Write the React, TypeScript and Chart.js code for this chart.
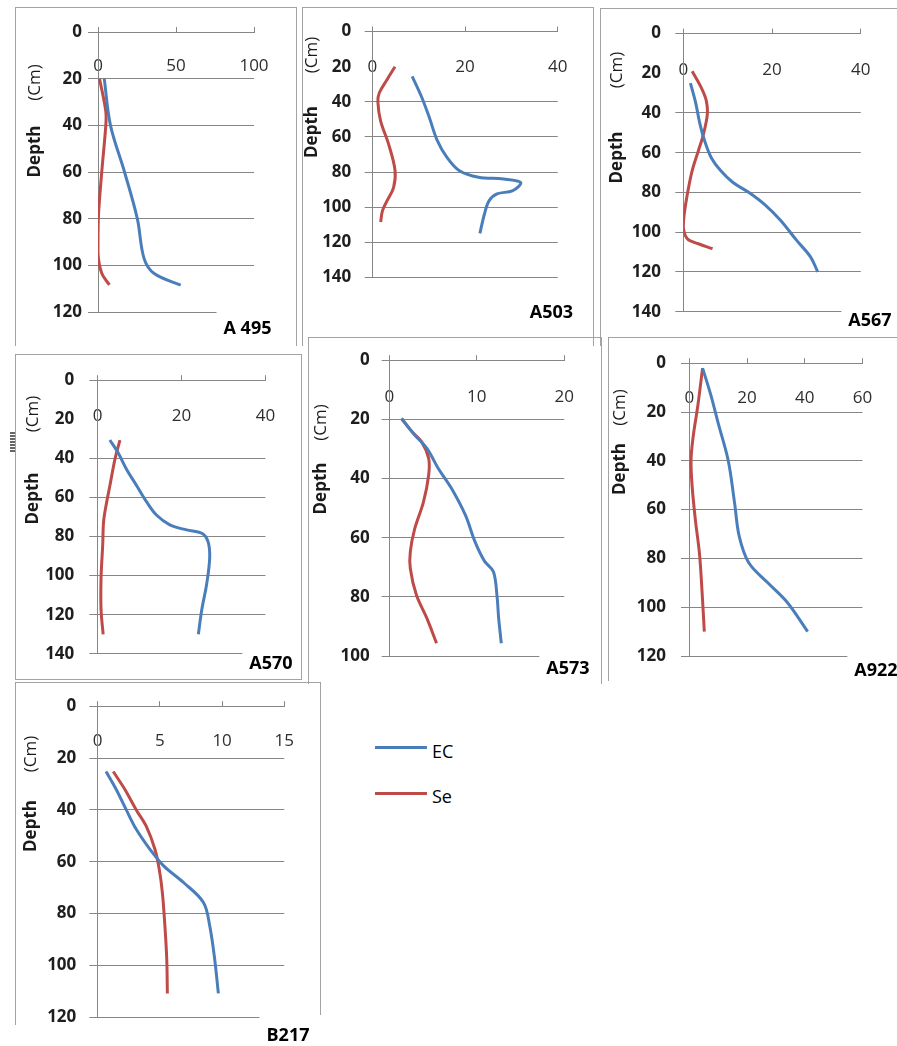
import React, { useEffect, useRef } from "react";
import { Chart, registerables } from "chart.js";

Chart.register(...registerables);
Chart.defaults.font.family = '"Open Sans", "Liberation Sans", sans-serif';

// ---------- data (value, depth in cm) ----------
const A495_EC = [4, 8, 17, 25.2, 29.5, 36, 53];
const A495_EC_depth = [20, 40, 60, 80, 97, 103.5, 108.5];
const A495_Se = [1, 5, 5, 2.4, 0.2, 0, 2.4, 7.3];
const A495_Se_depth = [20, 34, 40, 60, 80, 95, 103.4, 108.4];

const A503_EC = [8.6, 10.7, 12.3, 14, 16.1, 18.8, 22.9, 28.3, 32, 30.3, 26.9, 25.2, 24.2, 23.2];
const A503_EC_depth = [25.5, 37.7, 49, 62, 71.7, 79.3, 83, 84, 86, 90.6, 92.5, 96.3, 103.8, 115];
const A503_Se = [4.9, 3.2, 1.5, 1.2, 1.8, 3.5, 4.9, 4.6, 3.2, 2.2, 1.8];
const A503_Se_depth = [20, 27.3, 35, 40, 51, 64, 79, 88.7, 96.3, 102, 108.5];

const A567_EC = [1.6, 2.7, 3.8, 4.8, 6.3, 8.4, 11.2, 14.8, 18.3, 21.9, 25.5, 28.7, 30.3];
const A567_EC_depth = [25, 34, 46, 54, 62.5, 69, 75, 80, 86, 94, 104, 112.5, 120];
const A567_Se = [2, 4.1, 5.2, 5.4, 4.5, 3.4, 2, 0.9, 0.2, 0, 0.9, 3.4, 6.6];
const A567_Se_depth = [19, 27.5, 34, 41, 51, 59, 69, 81, 91, 97.5, 103.3, 105.8, 108.3];

const A570_EC = [2.9, 4.9, 6.9, 9.3, 11.7, 14, 17.2, 21.2, 24.8, 26.3, 26.7, 26, 24.8, 24];
const A570_EC_depth = [30.6, 37.3, 45.7, 54, 62.4, 69, 74, 76.6, 78.3, 82.5, 90.8, 104, 117.6, 130];
const A570_Se = [5.3, 4.1, 2.9, 2, 1.4, 1.2, 0.8, 0.8, 1.3];
const A570_Se_depth = [30.6, 40.6, 54, 64, 72.5, 84, 101, 117.6, 130];

const A573_EC = [1.4, 2.9, 4.3, 5.6, 7.1, 8.7, 9.8, 10.9, 11.9, 12.3, 12.5, 12.8];
const A573_EC_depth = [19.7, 25.3, 29.8, 36.6, 43.3, 52.4, 61.4, 68, 71.5, 79.4, 87.3, 95.7];
const A573_Se = [1.4, 2.6, 3.7, 4.5, 4.5, 3.9, 2.9, 2.4, 2.4, 3.1, 4.3, 5.4];
const A573_Se_depth = [19.7, 24.2, 27.6, 33.2, 38.8, 48, 57, 64.7, 70.4, 79.4, 87.3, 95.7];

const A922_EC = [4.6, 7.4, 10.1, 13.5, 15.7, 17.3, 20.6, 27.2, 33.9, 41];
const A922_EC_depth = [2, 12.8, 25, 40, 57.4, 71, 81.8, 90, 98, 110];
const A922_Se = [4.6, 3, 1.3, 0.6, 1, 2.1, 3.5, 4.3, 5.2];
const A922_Se_depth = [2, 17, 30.4, 40, 50.7, 64.2, 77.7, 91.2, 110];

const B217_EC = [0.67, 1.5, 2.3, 3.1, 4.2, 5.3, 6.9, 8.5, 9, 9.4, 9.7];
const B217_EC_depth = [25.2, 32.2, 40, 47.5, 55.2, 61.6, 68, 75.7, 84.6, 97.4, 110.8];
const B217_Se = [1.25, 2.2, 3.1, 3.9, 4.6, 4.95, 5.2, 5.4, 5.55, 5.6];
const B217_Se_depth = [25.2, 32.2, 40, 46.3, 55.2, 63, 72, 84.6, 97.4, 110.8];

const SERIES_NAMES = ["EC", "Se"];
const BLUE = "#4A7EBB";
const RED = "#BE4B48";
const GRID = "#868686";
const FRAME = "#a3a3a3";
const TICK_SIZE = 17;

type Panel = {
  title: string;
  ec: number[]; ecD: number[]; se: number[]; seD: number[];
  xMax: number; xStep: number; yMax: number;
  canvas: [number, number, number, number]; // page x, y, w, h
  area: [number, number, number, number]; // page left, top, right, bottom
  tl: number; pad: number; xOff: number;
  titlePos: [number, number];
  yTitle: [number, number, number]; // x, Depth centre y, (Cm) centre y
  hide: number[];
  frame: { l: number; t: number; r: number; b: number; sides: string; rb?: number };
};

const panels: Panel[] = [
  {
    title: "A 495", ec: A495_EC, ecD: A495_EC_depth, se: A495_Se, seD: A495_Se_depth,
    xMax: 100, xStep: 50, yMax: 120,
    canvas: [16, 8, 280, 340], area: [98, 32, 254, 312], tl: 10, pad: 6, xOff: 34.3,
    titlePos: [247.5, 328], yTitle: [35, 151.5, 82.5], hide: [],
    frame: { l: 15, t: 7, r: 297, b: 346, sides: "tlr" },
  },
  {
    title: "A503", ec: A503_EC, ecD: A503_EC_depth, se: A503_Se, seD: A503_Se_depth,
    xMax: 40, xStep: 20, yMax: 140,
    canvas: [303, 8, 290, 335], area: [372.3, 30, 569, 277.3], tl: 7.6, pad: 13.4, xOff: 35.7,
    titlePos: [551.5, 311.5], yTitle: [312, 132, 55], hide: [20],
    frame: { l: 302, t: 7, r: 594, b: 346, sides: "tlr" },
  },
  {
    title: "A567", ec: A567_EC, ecD: A567_EC_depth, se: A567_Se, seD: A567_Se_depth,
    xMax: 40, xStep: 20, yMax: 140,
    canvas: [601, 9, 296, 335], area: [683.3, 31.7, 871, 311.7], tl: 8, pad: 14.3, xOff: 36.7,
    titlePos: [870, 320], yTitle: [617.5, 157.5, 70], hide: [20],
    frame: { l: 600, t: 8, r: 897, b: 346, sides: "tl" },
  },
  {
    title: "A570", ec: A570_EC, ecD: A570_EC_depth, se: A570_Se, seD: A570_Se_depth,
    xMax: 40, xStep: 20, yMax: 140,
    canvas: [16, 355, 285, 324], area: [97.7, 377.3, 265.7, 656], tl: 8.4, pad: 15, xOff: 36,
    titlePos: [271, 662.5], yTitle: [33.5, 498.5, 414], hide: [20],
    frame: { l: 15, t: 354, r: 302, b: 680, sides: "tlrb" },
  },
  {
    title: "A573", ec: A573_EC, ecD: A573_EC_depth, se: A573_Se, seD: A573_Se_depth,
    xMax: 20, xStep: 10, yMax: 100,
    canvas: [309, 338, 292, 345], area: [389.3, 360, 564.3, 656], tl: 7.6, pad: 12, xOff: 36.7,
    titlePos: [568, 668], yTitle: [321, 488.5, 422.5], hide: [],
    frame: { l: 308, t: 337, r: 602, b: 684, sides: "tlr" },
  },
  {
    title: "A922", ec: A922_EC, ecD: A922_EC_depth, se: A922_Se, seD: A922_Se_depth,
    xMax: 60, xStep: 20, yMax: 120,
    canvas: [609, 338, 288, 344], area: [689.3, 360, 870.7, 656], tl: 8.3, pad: 15, xOff: 35,
    titlePos: [876, 670], yTitle: [620, 469, 407.5], hide: [],
    frame: { l: 608, t: 337, r: 897, b: 681, sides: "tl" },
  },
  {
    title: "B217", ec: B217_EC, ecD: B217_EC_depth, se: B217_Se, seD: B217_Se_depth,
    xMax: 15, xStep: 5, yMax: 120,
    canvas: [16, 683, 304, 363], area: [97.7, 704.3, 284.3, 1017.3], tl: 8.4, pad: 13, xOff: 35,
    titlePos: [288, 1035], yTitle: [31.5, 826, 754], hide: [],
    frame: { l: 15, t: 682, r: 321, b: 1025, sides: "tlr", rb: 1015 },
  },
];

const zip = (vals: number[], depth: number[]) => vals.map((v, i) => ({ x: v, y: depth[i] }));

const textPlugin = {
  id: "panelText",
  afterDraw(chart: any, _args: any, opts: any) {
    const ctx = chart.ctx as CanvasRenderingContext2D;
    ctx.save();
    ctx.textAlign = "center";
    ctx.textBaseline = "middle";
    ctx.fillStyle = "#1a1a1a";
    ctx.save();
    ctx.translate(opts.yx, opts.depthY);
    ctx.rotate(-Math.PI / 2);
    ctx.font = 'bold 17px "Open Sans", sans-serif';
    ctx.fillText("Depth", 0, 0);
    ctx.restore();
    ctx.save();
    ctx.translate(opts.yx, opts.cmY);
    ctx.rotate(-Math.PI / 2);
    ctx.font = '17px "Open Sans", sans-serif';
    ctx.fillText("(Cm)", 0, 0);
    ctx.restore();
    ctx.font = 'bold 18px "Open Sans", sans-serif';
    const w = ctx.measureText(opts.title).width;
    ctx.fillStyle = "#ffffff";
    ctx.fillRect(opts.tx - w / 2 - 7, opts.ty - 19, w + 14, 30);
    ctx.fillStyle = "#000000";
    ctx.fillText(opts.title, opts.tx, opts.ty + 1);
    ctx.restore();
  },
};

function PanelChart({ p }: { p: Panel }) {
  const ref = useRef<HTMLCanvasElement>(null);
  useEffect(() => {
    const [cx, cy, cw, ch] = p.canvas;
    const [al, at, ar, ab] = p.area;
    const XH = 6;
    const left = al - cx;
    const top = at - cy;
    const right = ar - cx;
    const bottom = ab - cy;
    const chart = new Chart(ref.current as HTMLCanvasElement, {
      type: "scatter",
      data: {
        datasets: [
          {
            label: SERIES_NAMES[0], data: zip(p.ec, p.ecD), borderColor: BLUE, backgroundColor: BLUE,
            borderWidth: 3, showLine: true, pointRadius: 0, tension: 0.35, fill: false,
          },
          {
            label: SERIES_NAMES[1], data: zip(p.se, p.seD), borderColor: RED, backgroundColor: RED,
            borderWidth: 3, showLine: true, pointRadius: 0, tension: 0.35, fill: false,
          },
        ],
      },
      options: {
        responsive: false,
        animation: false,
        events: [],
        layout: { padding: { left: 0, top: top - XH, right: cw - right, bottom: ch - bottom } },
        plugins: {
          legend: { display: false },
          tooltip: { enabled: false },
          panelText: {
            title: p.title, tx: p.titlePos[0] - cx, ty: p.titlePos[1] - cy,
            yx: p.yTitle[0] - cx, depthY: p.yTitle[1] - cy, cmY: p.yTitle[2] - cy,
          },
        } as any,
        scales: {
          x: {
            type: "linear", position: "top", min: 0, max: p.xMax,
            afterFit: (s: any) => { s.height = XH; },
            grid: { drawOnChartArea: false, drawTicks: true, tickLength: 5, color: GRID },
            border: { display: true, color: GRID, width: 1 },
            ticks: {
              stepSize: p.xStep, mirror: true, padding: p.xOff - TICK_SIZE * 0.6, autoSkip: false, maxRotation: 0,
              font: { size: TICK_SIZE }, color: "#2e2e2e",
            },
          },
          y: {
            type: "linear", reverse: true, min: 0, max: p.yMax,
            afterFit: (s: any) => { s.width = left; },
            grid: {
              color: (c: any) => (c.tick && p.hide.includes(c.tick.value) ? "rgba(0,0,0,0)" : GRID),
              tickLength: p.tl, drawTicks: true,
            },
            border: { display: true, color: GRID, width: 1 },
            ticks: { stepSize: 20, padding: p.pad, font: { size: TICK_SIZE, weight: "bold" }, color: "#1e1e1e" },
          },
        },
      } as any,
      plugins: [textPlugin],
    });
    return () => chart.destroy();
  }, [p]);
  const [cx, cy, cw, ch] = p.canvas;
  return (
    <canvas
      ref={ref}
      width={cw}
      height={ch}
      style={{ position: "absolute", left: cx, top: cy, width: cw, height: ch }}
    />
  );
}

function Frame({ p }: { p: Panel }) {
  const f = p.frame;
  const s = f.sides;
  const items: React.ReactNode[] = [];
  if (s.includes("t")) items.push(<div key="t" style={{ position: "absolute", left: f.l, top: f.t, width: f.r - f.l, height: 1, background: FRAME }} />);
  if (s.includes("l")) items.push(<div key="l" style={{ position: "absolute", left: f.l, top: f.t, width: 1, height: f.b - f.t, background: FRAME }} />);
  if (s.includes("r")) items.push(<div key="r" style={{ position: "absolute", left: f.r - 1, top: f.t, width: 1, height: (f.rb ?? f.b) - f.t, background: FRAME }} />);
  if (s.includes("b")) items.push(<div key="b" style={{ position: "absolute", left: f.l, top: f.b - 1, width: f.r - f.l, height: 1, background: FRAME }} />);
  return <>{items}</>;
}

export default function App() {
  return (
    <div style={{ position: "absolute", left: 0, top: 0, width: 897, height: 1046, overflow: "hidden", background: "#fff", fontFamily: '"Open Sans", sans-serif' }}>
      {panels.map((p) => <Frame key={"f" + p.title} p={p} />)}
      {panels.map((p) => <PanelChart key={p.title} p={p} />)}
      <div style={{ position: "absolute", left: 10, top: 432, width: 5, height: 20, background: "repeating-linear-gradient(to bottom, #666 0px, #666 1.5px, transparent 1.5px, transparent 3px)" }} />
      <div style={{ position: "absolute", left: 375, top: 746, width: 52, height: 3, background: BLUE }} />
      <div style={{ position: "absolute", left: 432, top: 740, fontSize: 18, lineHeight: "22px", color: "#000" }}>{SERIES_NAMES[0]}</div>
      <div style={{ position: "absolute", left: 375, top: 792, width: 52, height: 3, background: RED }} />
      <div style={{ position: "absolute", left: 432, top: 785, fontSize: 18, lineHeight: "22px", color: "#000" }}>{SERIES_NAMES[1]}</div>
    </div>
  );
}
